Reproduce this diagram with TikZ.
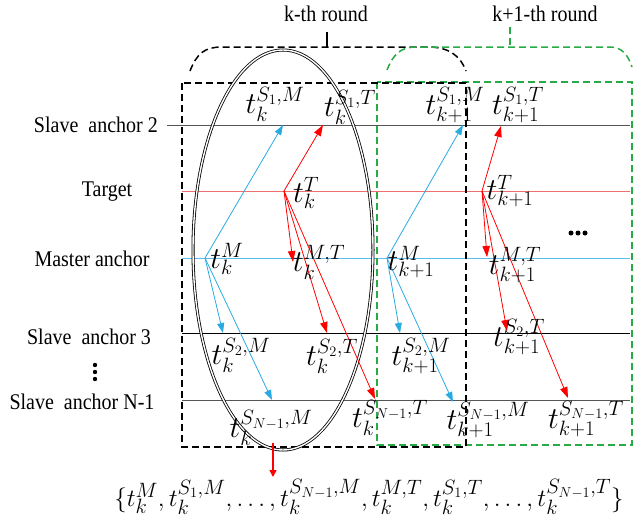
\documentclass[tikz,border=0pt]{standalone}
\usepackage{fontspec}
\setmainfont{Liberation Serif}
\usetikzlibrary{arrows.meta}
\definecolor{cblue}{RGB}{41,171,226}
\definecolor{cred}{RGB}{255,0,0}
\definecolor{cgreen}{RGB}{40,170,70}
\definecolor{ctgt}{RGB}{240,110,110}
\definecolor{cmas}{RGB}{90,190,235}
\definecolor{cgray}{RGB}{85,85,85}
\newcommand{\tallish}[1]{\scalebox{1}[1.12]{#1}}
\newcommand{\tbig}{\mathord{\scalebox{1.22}{$t$}}}
\begin{document}
\begin{tikzpicture}[x=1pt,y=-1pt,
  lbl/.style={font=\fontsize{20}{24}\selectfont, inner sep=0pt},
  tl/.style={font=\fontsize{29}{34}\selectfont, inner sep=0pt},
  setlbl/.style={font=\fontsize{27.5}{32}\selectfont, inner sep=0pt},
  blarrow/.style={cblue, line width=0.8pt, -{Triangle[length=10pt,width=7pt]}},
  rdarrow/.style={cred, line width=0.8pt, -{Triangle[length=11pt,width=7.5pt]}},
  bbox/.style={black, line width=1.5pt, dash pattern=on 7pt off 4pt},
  gbox/.style={cgreen, line width=1.5pt, dash pattern=on 7pt off 4pt},
  dotc/.style={fill=black, draw=none},
]
\useasboundingbox (0,0) rectangle (637,525);

% horizontal time lines
\coordinate (sa2L) at (167,125); \coordinate (sa2R) at (630,125);
\coordinate (tgL) at (182,191); \coordinate (tgR) at (630,191);
\coordinate (maL) at (182,258); \coordinate (maR) at (630,258);
\coordinate (sa3L) at (182,333); \coordinate (sa3R) at (630,333);
\coordinate (saNL) at (182,400); \coordinate (saNR) at (630,400);
\draw[cgray, line width=1pt] (sa2L) -- (sa2R);
\draw[ctgt, line width=1pt] (tgL) -- (tgR);
\draw[cmas, line width=1pt] (maL) -- (maR);
\draw[black, line width=0.8pt] (sa3L) -- (sa3R);
\draw[cgray, line width=1pt] (saNL) -- (saNR);

% row labels
\node[lbl, anchor=east] (lsa2) at (158,125) {\tallish{Slave\ \ anchor 2}};
\node[lbl] (ltg) at (107,192) {\tallish{Target}};
\node[lbl] (lma) at (92,259) {\tallish{Master anchor}};
\node[lbl] (lsa3) at (89,337) {\tallish{Slave\ \ anchor 3}};
\node[lbl] (lsaN) at (82,402) {\tallish{Slave\ \ anchor N-1}};
\fill[dotc] (95,365) circle (2.2);
\fill[dotc] (95,372) circle (2.2);
\fill[dotc] (95,379) circle (2.2);

% round boxes
\draw[gbox] (377,82) rectangle (632,445);
\draw[bbox] (182,83) rectangle (466,447);

% brackets
\draw[bbox] (190,71) .. controls (197,53) and (205,47) .. (222,47) -- (428,47) .. controls (448,47) and (460,55) .. (466,71);
\draw[black, line width=1.5pt] (327,32) -- (327,47);
\draw[gbox] (387,70) .. controls (393,55) and (400,47) .. (416,47) -- (610,47) .. controls (622,47) and (628,55) .. (632,67);
\draw[gbox] (510,27) -- (510,47);
\node[lbl] (kth) at (326,14) {\tallish{k-th round}};
\node[lbl] (k1th) at (545,14) {\tallish{k+1-th round}};

% ellipse
\draw[black, double=white, line width=0.8pt, double distance=1.4pt] (283,250) ellipse [x radius=90, y radius=200];

% event points
\coordinate (m1) at (205,258);
\coordinate (t1) at (284,191);
\coordinate (m2) at (387,258);
\coordinate (t2) at (482,191);

% round k, master
\draw[blarrow] (m1) -- (283,125);
\draw[blarrow] (m1) -- (223,333);
\draw[blarrow] (m1) -- (272,400);
% round k, target
\draw[rdarrow] (t1) -- (323,125);
\draw[rdarrow] (t1) -- (293,262);
\draw[rdarrow] (t1) -- (327,333);
\draw[rdarrow] (t1) -- (375,399);
% round k+1, master
\draw[blarrow] (m2) -- (463,125);
\draw[blarrow] (m2) -- (400,333);
\draw[blarrow] (m2) -- (453,402);
% round k+1, target
\draw[rdarrow] (t2) -- (501,126);
\draw[rdarrow] (t2) -- (487,257);
\draw[rdarrow] (t2) -- (507,331);
\draw[rdarrow] (t2) -- (568,398);

% time labels
\node[tl] (a1) at (275,104) {$\tbig_k^{S_1,M}$};
\node[tl] (a2) at (350,107) {$\tbig_k^{S_1,T}$};
\node[tl] (a3) at (455,105) {$\tbig_{k+1}^{S_1,M}$};
\node[tl] (a4) at (518,105) {$\tbig_{k+1}^{S_1,T}$};
\node[tl] (a5) at (306,193) {$\tbig_k^{T}$};
\node[tl] (a6) at (510,191) {$\tbig_{k+1}^{T}$};
\node[tl] (a7) at (227,259) {$\tbig_k^{M}$};
\node[tl] (a8) at (319,262) {$\tbig_k^{M,T}$};
\node[tl] (a9) at (411,262) {$\tbig_{k+1}^{M}$};
\node[tl] (a10) at (515,265) {$\tbig_{k+1}^{M,T}$};
\node[tl] (a11) at (241,355) {$\tbig_k^{S_2,M}$};
\node[tl] (a12) at (332,356) {$\tbig_k^{S_2,T}$};
\node[tl] (a13) at (421,356) {$\tbig_{k+1}^{S_2,M}$};
\node[tl] (a14) at (519,337) {$\tbig_{k+1}^{S_2,T}$};
\node[tl] (a15) at (271,428) {$\tbig_k^{S_{N-1},M}$};
\node[tl] (a16) at (390,418) {$\tbig_k^{S_{N-1},T}$};
\node[tl] (a17) at (488,420) {$\tbig_{k+1}^{S_{N-1},M}$};
\node[tl] (a18) at (586,419) {$\tbig_{k+1}^{S_{N-1},T}$};

% more dots
\fill[dotc] (571,233) circle (2.5);
\fill[dotc] (578,233) circle (2.5);
\fill[dotc] (585,233) circle (2.5);

% collected set
\node[setlbl] (set) at (369,497) {$\{t_k^M,t_k^{S_1,M},\ldots,t_k^{S_{N-1},M},t_k^{M,T},t_k^{S_1,T},\ldots,t_k^{S_{N-1},T}\}$};
\coordinate (ebot) at (273,443);
\coordinate (setTop) at (273,477);
\draw[cred, line width=1.6pt, -{Triangle[length=7pt,width=7pt]}] (ebot) -- (setTop);
\end{tikzpicture}
\end{document}
